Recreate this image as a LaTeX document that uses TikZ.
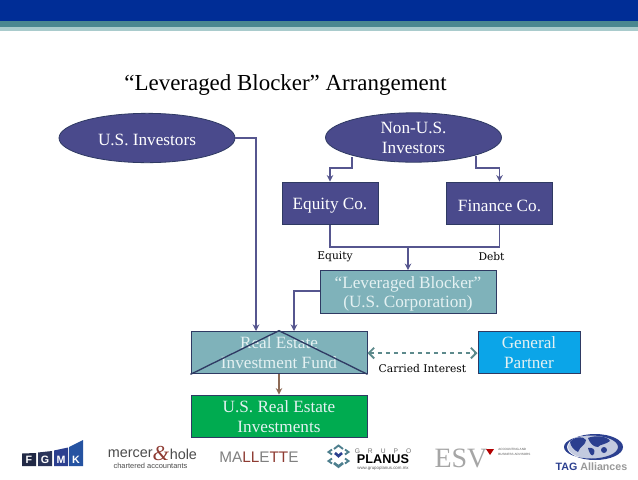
\documentclass[tikz,border=0pt]{standalone}
\usepackage{fontspec}
\setmainfont{Liberation Serif}
\newfontfamily\logosans{Liberation Sans}
\newfontfamily\labelfont{DejaVu Serif}
\usetikzlibrary{arrows.meta,shapes.geometric}
\definecolor{hblue}{HTML}{002D96}
\definecolor{hteal}{HTML}{4A8790}
\definecolor{hlight}{HTML}{A9CBCC}
\definecolor{navy}{HTML}{4A4A8C}
\definecolor{edgeblue}{HTML}{2F3A63}
\definecolor{tealbox}{HTML}{7FB2BA}
\definecolor{sky}{HTML}{0BA5E8}
\definecolor{grn}{HTML}{00AB50}
\definecolor{conn}{HTML}{56568F}
\definecolor{brownc}{HTML}{8D6A55}
\definecolor{dashc}{HTML}{5D8A8C}
\definecolor{lightt}{HTML}{E4F1F2}
\definecolor{logored}{HTML}{8E3B32}
\definecolor{taglight}{HTML}{C3CADF}
\definecolor{tagdark}{HTML}{2B3F8F}
\definecolor{plan}{HTML}{4E7F8E}
\tikzset{
 x=0.75pt,y=-0.75pt,
 box/.style={draw=edgeblue,line width=0.75pt,minimum width=#1,align=center,inner sep=0pt,text=lightt,font=\fontsize{12.9}{14.7}\selectfont,minimum height=32pt,execute at begin node={\rule{0pt}{11.5pt}}},
 box/.default=132pt,
 oval/.style={ellipse,draw=edgeblue,line width=0.6pt,fill=navy,align=center,inner sep=0pt,text=white,minimum width=132pt,minimum height=37pt,font=\fontsize{12.9}{14.7}\selectfont,execute at begin node={\rule{0pt}{11.5pt}}},
 twoline/.style={text height=26.7pt,text depth=3pt},
 conn/.style={draw=conn,line width=1.4pt,-{Stealth[length=5pt,width=5pt]}},
 plain/.style={draw=conn,line width=1.4pt},
 small/.style={font=\labelfont\fontsize{8}{10}\selectfont,text=black,inner sep=0pt},
 logotext/.style={font=\logosans\fontsize{#1}{#1}\selectfont,inner sep=0pt},
 fgmk/.style={font=\logosans\bfseries\fontsize{8}{9}\selectfont,text=white,inner sep=0pt},
 chev/.style={line width=1.4pt,draw=plan},
}
\begin{document}
\begin{tikzpicture}
\useasboundingbox (0,0) rectangle (638,479);
\fill[white] (0,0) rectangle (638,479);
\fill[hblue] (0,0) rectangle (638,21);
\fill[hteal] (0,21) rectangle (638,27);
\fill[hlight] (0,27) rectangle (638,31);
\node[inner sep=0pt,font=\fontsize{17.2}{20}\selectfont] (title) at (285.5,85.5) {“Leveraged Blocker” Arrangement};

\node[oval] (us) at (147,138) {U.S. Investors};
\node[oval,twoline,inner ysep=-1.75pt] (nonus) at (413.5,137.5) {Non-U.S.\\Investors};
\node[box=72pt,fill=navy,text=white] (eq) at (330,203.5) {Equity Co.};
\node[box=80pt,fill=navy,text=white] (fin) at (499.5,203.5) {Finance Co.};
\node[box=132pt,fill=tealbox,twoline] (lb) at (408,292) {“Leveraged Blocker”\\(U.S. Corporation)};
\node[box=132pt,fill=tealbox,twoline] (fund) at (279,352.5) {Real Estate\\Investment Fund};
\node[box=76.5pt,fill=sky,twoline] (gp) at (529,352.5) {General\\Partner};
\node[box=132pt,fill=grn,twoline] (re) at (279,416.5) {U.S. Real Estate\\Investments};
\draw[edgeblue,line width=1pt] (fund.south west) -- (fund.north) -- (fund.south east);

\coordinate (usdrop) at (256,331);
\coordinate (lbdrop) at (294,331);
\coordinate (n1) at (352,157);
\coordinate (n2) at (476,156);
\coordinate (merge) at (408,247);
\draw[conn] (us.east) -| (usdrop);
\draw[conn] (lb.west |- 0,291) -| (lbdrop);
\draw[conn] (n1) -- (352,168) -- (330,168) -- (eq.north);
\draw[conn] (n2) -- (476,168) -- (499.5,168) -- (fin.north);
\draw[plain] (eq.south) |- (merge);
\draw[plain] (fin.south) |- (merge);
\draw[conn,line width=1.8pt] (merge) -- (lb.north);
\draw[draw=brownc,line width=1.4pt,-{Stealth[length=5pt,width=5pt]}] (fund.south) -- (re.north);
\draw[draw=dashc,line width=1.4pt,dashed,{Straight Barb[length=4pt]}-{Straight Barb[length=4pt]}] (fund.east |- 0,353) -- (gp.west |- 0,353);

\node[small] (leq) at (335,257) {Equity};
\node[small] (ldebt) at (491.5,257) {Debt};
\node[small] (lci) at (422.5,369) {Carried Interest};

% FGMK logo
\fill[edgeblue!70!black] (22,453.5) -- (36,453) -- (36,466) -- (22,466) -- cycle;
\fill[edgeblue!90!black] (38,452.5) -- (52,451) -- (52,466) -- (38,466) -- cycle;
\fill[tagdark] (54,450.5) -- (68,447.5) -- (68,466) -- (54,466) -- cycle;
\fill[tagdark!80!sky] (69,447) -- (83,440) -- (83,466) -- (69,466) -- cycle;
\node[fgmk] (lf) at (29,460) {F};
\node[fgmk] (lg) at (45,460) {G};
\node[fgmk] (lm) at (61,460) {M};
\node[fgmk] (lk) at (76,460) {K};

% Mercer & Hole logo
\node[logotext=10.8,text=black!70,anchor=east] (m1) at (153,454) {mercer};
\node[font=\fontsize{16}{16}\selectfont\itshape,text=logored,inner sep=0pt] (m2) at (161,453) {\&};
\node[logotext=10.8,text=black!70,anchor=west] (m3) at (169.5,454) {hole};
\node[logotext=5.6,text=black!70] (m4) at (150.5,466) {chartered accountants};

% Mallette logo
\node[logotext=11.5,text=black!50,anchor=west] (mal) at (219,457.5) {MA\textcolor{logored}{LL}E\textcolor{logored}{TT}E};

% Grupo Planus logo
\draw[chev] (334,449) -- (338.5,445.5) -- (343,449);
\draw[chev] (332,449.5) -- (328.5,452) -- (332,454.5);
\draw[chev] (332,458.5) -- (328.5,461) -- (332,463.5);
\draw[chev] (345,449.5) -- (348.5,452) -- (345,454.5);
\draw[chev] (345,458.5) -- (348.5,461) -- (345,463.5);
\draw[chev,line width=2pt,draw=tagdark] (335,453) -- (338.5,456) -- (342,453);
\draw[chev,line width=2pt] (334,463) -- (338.5,466.5) -- (343,463);
\node[logotext=5,text=black!55] (p1) at (383,451.5) {G\hspace{6pt}R\hspace{6pt}U\hspace{6pt}P\hspace{6pt}O};
\node[font=\logosans\bfseries\fontsize{9.5}{10}\selectfont,text=black,inner sep=0pt] (p2) at (383,459.5) {PLANUS};
\node[logotext=3.3,text=black!65] (p3) at (383,468) {www.grupoplanus.com.mx};

% ESV logo
\node[font=\fontsize{21}{22}\selectfont,text=black!35,inner sep=0pt] (esv) at (461,458.5) {ESV};
\fill[red!70!black] (486,449) -- (494,449) -- (490,455) -- cycle;
\node[logotext=2.4,text=black!65,align=left,anchor=west,font=\logosans\fontsize{2.3}{3.2}\selectfont] (esv2) at (498,452) {ACCOUNTING AND\\BUSINESS ADVISORS};

% TAG logo
\fill[taglight] (594,447) ellipse [x radius=26,y radius=12];
\fill[tagdark,even odd rule] (595,447) ellipse [x radius=28,y radius=13] (591,447) ellipse [x radius=27,y radius=11.5];
\fill[tagdark] (570,442) .. controls (574,436) and (584,436) .. (586,440) .. controls (586,445) and (580,446) .. (578,452) .. controls (574,450) and (571,447) .. (570,442) -- cycle;
\fill[tagdark] (588,438) .. controls (594,435) and (608,436) .. (610,441) .. controls (605,445) and (600,444) .. (598,447) .. controls (594,447) and (590,444) .. (588,438) -- cycle;
\fill[tagdark] (588,448) .. controls (592,447) and (596,449) .. (594,454) .. controls (592,457) and (590,455) .. (588,448) -- cycle;
\fill[tagdark] (604,450) circle [radius=3];
\node[font=\logosans\bfseries\fontsize{8}{9}\selectfont,text=tagdark,inner sep=0pt] (tag) at (591.5,466.5) {TAG \textcolor{black!40}{Alliances}};
\end{tikzpicture}
\end{document}
